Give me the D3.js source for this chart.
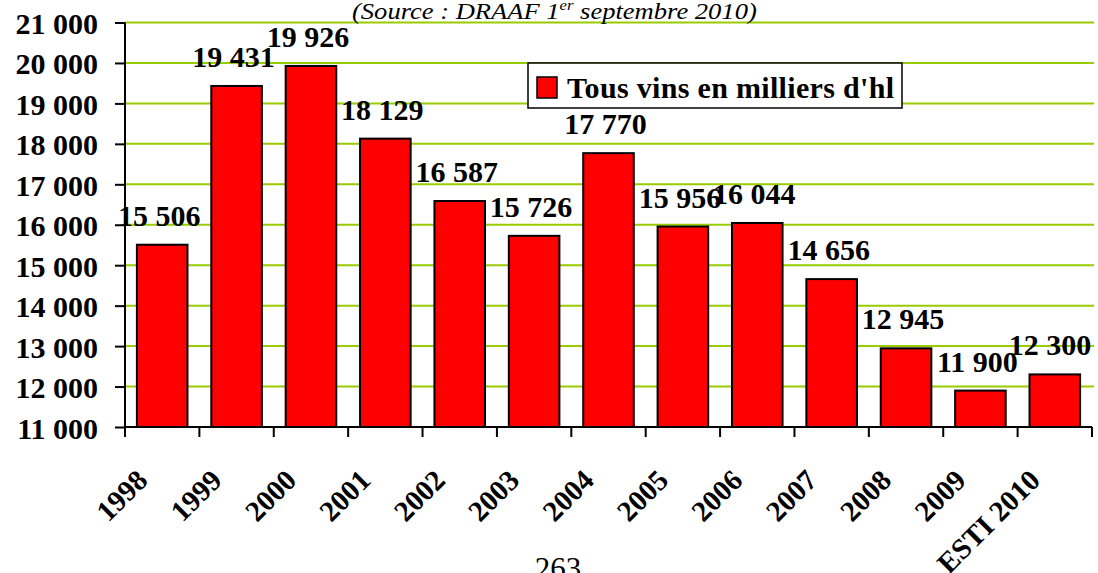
<!DOCTYPE html>
<html lang="fr">
    <head>
        <meta charset="UTF-8" />
        <title>Tous vins en milliers d'hl</title>
        <style>
            body { margin: 0; background: #fff; }
            text { font-family: "Liberation Serif", "Times New Roman", serif; }
        </style>
    </head>
    <body>
        <div id="chart"></div>

        <!-- Load d3.js -->
        <script src="https://d3js.org/d3.v7.min.js"></script>

        <script>
            // values
            var years = ["1998", "1999", "2000", "2001", "2002", "2003", "2004", "2005", "2006", "2007", "2008", "2009", "ESTI 2010"];
            var volumes = [15506, 19431, 19926, 18129, 16587, 15726, 17770, 15956, 16044, 14656, 12945, 11900, 12300];
            var yTicks = [11000, 12000, 13000, 14000, 15000, 16000, 17000, 18000, 19000, 20000, 21000];
            var legendLabel = "Tous vins en milliers d'hl";

            var W = 1098, H = 573;
            var plotLeft = 125, plotRight = 1092, plotTop = 22.5, plotBottom = 427;

            // french number format: "15 506"
            var fr = d3.formatLocale({decimal: ",", thousands: " ", grouping: [3], currency: ["", ""]});
            var fmt = fr.format(",");

            var svg = d3.select("#chart")
              .append("svg")
                .attr("width", W)
                .attr("height", H);

            var x = d3.scaleBand()
              .domain(years)
              .range([plotLeft, plotRight])
              .paddingInner(0.32)
              .paddingOuter(0.16);

            var y = d3.scaleLinear()
              .domain([11000, 21000])
              .range([plotBottom, plotTop]);

            // gridlines
            svg.append("g")
              .selectAll("line")
              .data(yTicks.slice(1))
              .enter()
              .append("line")
                .attr("x1", plotLeft)
                .attr("x2", plotRight + 2)
                .attr("y1", function(d) { return y(d); })
                .attr("y2", function(d) { return y(d); })
                .attr("stroke", "#99cc00")
                .attr("stroke-width", 2);

            // bars
            svg.append("g")
              .selectAll("rect")
              .data(volumes)
              .enter()
              .append("rect")
                .attr("x", function(d, i) { return x(years[i]); })
                .attr("y", function(d) { return y(d); })
                .attr("width", x.bandwidth())
                .attr("height", function(d) { return plotBottom - y(d); })
                .attr("fill", "#ff0000")
                .attr("stroke", "#000")
                .attr("stroke-width", 2);

            // Y axis
            var yAxis = svg.append("g")
              .attr("transform", "translate(" + plotLeft + ",0)")
              .call(d3.axisLeft(y).tickValues(yTicks).tickSize(10).tickPadding(17).tickFormat(fmt));
            yAxis.select(".domain").attr("stroke", "#000").attr("stroke-width", 2).attr("d", "M0," + plotTop + "V" + plotBottom);
            yAxis.selectAll(".tick line").attr("stroke", "#000").attr("stroke-width", 2);
            yAxis.selectAll("text")
              .attr("fill", "#000")
              .attr("dy", "11px")
              .style("font-size", "30px")
              .style("font-weight", "bold");

            // X axis: ticks on band edges
            var xAxis = svg.append("g")
              .attr("transform", "translate(0," + plotBottom + ")");
            xAxis.append("line")
              .attr("x1", plotLeft).attr("x2", plotRight)
              .attr("stroke", "#000").attr("stroke-width", 2);
            var edges = years.map(function(d) { return x(d) - x.step() * x.paddingInner() / 2; }).concat([plotRight]);
            xAxis.selectAll(".edge")
              .data(edges)
              .enter()
              .append("line")
                .attr("class", "edge")
                .attr("x1", function(d) { return d; })
                .attr("x2", function(d) { return d; })
                .attr("y1", 0).attr("y2", 10)
                .attr("stroke", "#000").attr("stroke-width", 2);
            xAxis.selectAll(".lab")
              .data(years)
              .enter()
              .append("text")
                .attr("class", "lab")
                .attr("transform", function(d) {
                    return "translate(" + (x(d) + x.bandwidth() / 2 - 13) + ",55)rotate(-45)";
                })
                .style("text-anchor", "end")
                .style("font-size", "29px")
                .style("font-weight", "bold")
                .text(function(d) { return d; });

            // data labels
            svg.append("g")
              .selectAll("text")
              .data(volumes)
              .enter()
              .append("text")
                .attr("x", function(d, i) { return Math.min(x(years[i]) + x.bandwidth() / 2 - 3, plotRight - 42); })
                .attr("y", function(d) { return y(d) - 19; })
                .style("text-anchor", "middle")
                .style("font-size", "30px")
                .style("font-weight", "bold")
                .text(function(d) { return fmt(d); });

            // legend
            var legend = svg.append("g");
            legend.append("rect")
              .attr("x", 528).attr("y", 63)
              .attr("width", 374).attr("height", 45)
              .attr("fill", "#fff")
              .attr("stroke", "#000")
              .attr("stroke-width", 1.5);
            legend.append("rect")
              .attr("x", 537).attr("y", 77)
              .attr("width", 20).attr("height", 21)
              .attr("fill", "#ff0000")
              .attr("stroke", "#000")
              .attr("stroke-width", 1.5);
            legend.append("text")
              .attr("x", 567).attr("y", 98)
              .attr("textLength", 327)
              .attr("lengthAdjust", "spacing")
              .style("font-size", "30px")
              .style("font-weight", "bold")
              .text(legendLabel);

            // source line, stretched to the width it has in the original
            var src = svg.append("text")
              .style("font-size", "24px")
              .style("font-style", "italic");
            src.append("tspan").text("(Source : DRAAF 1");
            src.append("tspan").attr("dy", -9).style("font-size", "15px").text("er");
            src.append("tspan").attr("dy", 9).text(" septembre 2010)");
            var srcW = src.node().getBBox().width;
            src.attr("transform", "translate(352,19)scale(" + (405 / srcW) + ",1)");

            // page number
            svg.append("text")
              .attr("x", 558).attr("y", 579)
              .style("text-anchor", "middle")
              .style("font-size", "31px")
              .text("263");
        </script>
    </body>
</html>
